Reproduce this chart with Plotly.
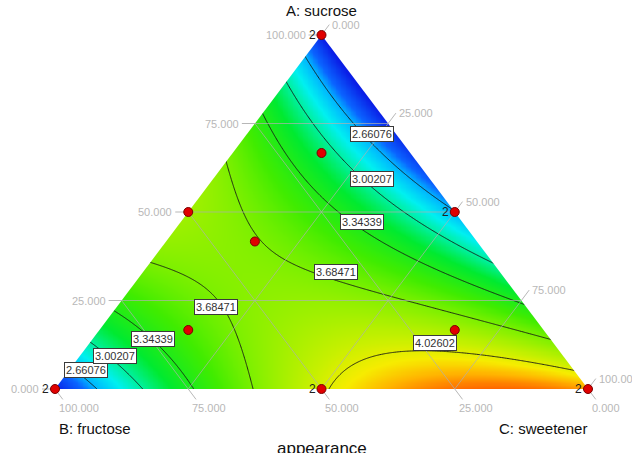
import numpy as np
import plotly.graph_objects as go

# ---- fitted mixture model for "appearance" (A: sucrose, B: fructose, C: sweetener) ----
# Scheffe full cubic: linear, binary and cubic-binary blending terms
lin_coef = [2.32, 2.32, 4.25]        # A, B, C
quad_coef = [5.94, -2.45, 2.85]      # AB, AC, BC
cub_coef = [0.0, 0.0, -0.30]         # AB(A-B), AC(A-C), BC(B-C)
abc_coef = 0.0                       # ABC

contour_levels = [2.66076, 3.00207, 3.34339, 3.68471, 4.02602]
z_low, z_high = 2.31945, 4.36733

# ---- design points (percent) and replicate counts ----
pt_A = [100, 0, 0, 50, 50, 0, 33.33, 66.67, 16.67, 16.67, 41.67]
pt_B = [0, 100, 0, 50, 0, 50, 33.33, 16.67, 66.67, 16.67, 41.67]
pt_C = [0, 0, 100, 0, 50, 50, 33.33, 16.67, 16.67, 66.67, 16.67]
replicates = [2, 2, 2, 1, 2, 2, 1, 1, 1, 1, 1]

tick_values = [0, 25, 50, 75, 100]
grid_values = [25, 50, 75]

# contour label placements (A, B, C in percent) and their levels
label_text = ["2.66076", "2.66076", "3.00207", "3.00207", "3.34339", "3.34339",
              "3.68471", "3.68471", "4.02602"]
label_A = [72.0, 5.4, 59.3, 9.3, 47.2, 14.1, 33.0, 23.2, 13.0]
label_C = [23.4, 3.1, 29.9, 6.6, 34.0, 11.4, 36.2, 18.6, 64.8]

# colour ramp: response value -> colour
ramp_values = [2.31945, 2.55, 2.66, 2.85, 3.00, 3.20, 3.50, 3.70, 3.95, 4.08, 4.20, 4.30, 4.36733]
ramp_colors = ["#0a1ee6", "#0a64ff", "#00b4ff", "#00f0f0", "#00f0a0", "#00ea30",
               "#40ec00", "#80f000", "#c8f000", "#f6ec00", "#ffb400", "#ff7c00", "#ff5a00"]

FONT = "Liberation Sans, Arial, sans-serif"
PX, PY = 533.0, 354.0   # pixels per unit of the triangle's x and y


def to_xy(a, c):
    """Mixture fractions -> planar coordinates (B at (0,0), C at (1,0), A at (0.5,1))."""
    a = np.asarray(a, dtype=float)
    c = np.asarray(c, dtype=float)
    return c + a / 2.0, a


def model(a, b, c):
    y = lin_coef[0] * a + lin_coef[1] * b + lin_coef[2] * c
    y += quad_coef[0] * a * b + quad_coef[1] * a * c + quad_coef[2] * b * c
    y += cub_coef[0] * a * b * (a - b) + cub_coef[1] * a * c * (a - c) + cub_coef[2] * b * c * (b - c)
    y += abc_coef * a * b * c
    return y


# ---- response surface on a planar grid ----
gx = np.linspace(0, 1, 321)
gy = np.linspace(0, 1, 321)
X, Y = np.meshgrid(gx, gy)
A = Y
C = X - Y / 2.0
B = 1.0 - A - C
Z = model(A, B, C)

colorscale = [[(v - z_low) / (z_high - z_low), c] for v, c in zip(ramp_values, ramp_colors)]
colorscale[0][0] = 0.0
colorscale[-1][0] = 1.0

fig = go.Figure()
fig.add_trace(go.Contour(
    x=gx, y=gy, z=Z,
    zmin=z_low, zmax=z_high,
    colorscale=colorscale, showscale=False,
    contours=dict(start=contour_levels[0], end=contour_levels[-1] + 1e-4,
                  size=contour_levels[1] - contour_levels[0], coloring="heatmap"),
    line=dict(color="#151515", width=0.9, smoothing=0.8),
    hoverinfo="skip",
))

# white masks outside the simplex
white = dict(mode="lines", fill="toself", fillcolor="white",
             line=dict(width=0, color="white"), hoverinfo="skip", showlegend=False)
fig.add_trace(go.Scatter(x=[-0.3, 0, 0.5, 0.5, -0.3], y=[0, 0, 1, 1.3, 1.3], **white))
fig.add_trace(go.Scatter(x=[1.3, 1, 0.5, 0.5, 1.3], y=[0, 0, 1, 1.3, 1.3], **white))
fig.add_trace(go.Scatter(x=[-0.3, 1.3, 1.3, -0.3], y=[0, 0, -0.3, -0.3], **white))

# ---- grid lines and tick extensions ----
TL = 13.0
ux, uy = 0.6 * TL / PX, 0.8 * TL / PY   # slanted tick components
gxs, gys = [], []
for v in grid_values:
    f = v / 100.0
    # A = const (horizontal)
    x0, y0 = to_xy(f, 0)
    x1, y1 = to_xy(f, 1 - f)
    gxs += [float(x0), float(x1), None]; gys += [float(y0), float(y1), None]
    # B = const
    x0, y0 = to_xy(0, 1 - f)
    x1, y1 = to_xy(1 - f, 0)
    gxs += [float(x0), float(x1), None]; gys += [float(y0), float(y1), None]
    # C = const
    x0, y0 = to_xy(1 - f, f)
    x1, y1 = to_xy(0, f)
    gxs += [float(x0), float(x1), None]; gys += [float(y0), float(y1), None]
fig.add_trace(go.Scatter(x=gxs, y=gys, mode="lines",
                         line=dict(color="rgba(175,175,175,0.7)", width=1),
                         hoverinfo="skip", showlegend=False))

txs, tys = [], []
annotations = []
tick_font = dict(family=FONT, size=11, color="#b8b8b8")
for v in tick_values:
    f = v / 100.0
    # A axis: left edge, horizontal tick to the left
    ex, ey = to_xy(f, 0)
    ex, ey = float(ex), float(ey)
    txs += [ex, ex - TL / PX, None]; tys += [ey, ey, None]
    annotations.append(dict(x=ex - TL / PX, y=ey, text=f"{v:.3f}", showarrow=False,
                            xanchor="right", yanchor="middle", xshift=-1, font=tick_font))
    # B axis: bottom edge, tick down-right
    ex, ey = to_xy(0, 1 - f)
    ex, ey = float(ex), float(ey)
    txs += [ex, ex + ux, None]; tys += [ey, ey - uy, None]
    annotations.append(dict(x=ex + ux, y=ey - uy, text=f"{v:.3f}", showarrow=False,
                            xanchor="left", yanchor="top", xshift=-6, yshift=-1, font=tick_font))
    # C axis: right edge, tick up-right
    ex, ey = to_xy(1 - f, f)
    ex, ey = float(ex), float(ey)
    txs += [ex, ex + ux, None]; tys += [ey, ey + uy, None]
    annotations.append(dict(x=ex + ux, y=ey + uy, text=f"{v:.3f}", showarrow=False,
                            xanchor="left", yanchor="middle", xshift=1, font=tick_font))
fig.add_trace(go.Scatter(x=txs, y=tys, mode="lines",
                         line=dict(color="rgba(175,175,175,0.9)", width=1),
                         hoverinfo="skip", showlegend=False))

# ---- design points ----
pa = np.array(pt_A) / 100.0
pc = np.array(pt_C) / 100.0
px_, py_ = to_xy(pa, pc)
fig.add_trace(go.Scatter(x=px_, y=py_, mode="markers",
                         marker=dict(size=9, color="#e00000", line=dict(color="#7a0000", width=1)),
                         hoverinfo="skip", showlegend=False))
for x, y, r in zip(px_, py_, replicates):
    if r > 1:
        annotations.append(dict(x=float(x), y=float(y), text=str(r), showarrow=False,
                                xanchor="right", yanchor="middle", xshift=-4,
                                font=dict(family=FONT, size=12, color="#202020")))

# ---- contour labels ----
lx, ly = to_xy(np.array(label_A) / 100.0, np.array(label_C) / 100.0)
for x, y, t in zip(lx, ly, label_text):
    annotations.append(dict(x=float(x), y=float(y), text=t, showarrow=False,
                            bgcolor="white", bordercolor="#3a3a3a", borderwidth=1, borderpad=1,
                            font=dict(family=FONT, size=11, color="#333333")))

# ---- component names and response title ----
name_font = dict(family=FONT, size=15, color="#111111")
annotations += [
    dict(x=0.5, y=(389 - 10) / PY, text="A: sucrose", showarrow=False, font=name_font),
    dict(x=(95 - 55) / PX, y=(389 - 428) / PY, text="B: fructose", showarrow=False, font=name_font),
    dict(x=(543 - 55) / PX, y=(389 - 428) / PY, text="C: sweetener", showarrow=False, font=name_font),
    dict(x=0.5, y=(389 - 448) / PY, text="appearance", showarrow=False,
         font=dict(family=FONT, size=17, color="#111111")),
]

fig.update_layout(
    width=632, height=453,
    margin=dict(l=0, r=0, t=0, b=0),
    paper_bgcolor="white", plot_bgcolor="white",
    showlegend=False,
    xaxis=dict(visible=False, range=[-55 / PX, 577 / PX], fixedrange=True),
    yaxis=dict(visible=False, range=[-64 / PY, 389 / PY], fixedrange=True),
    annotations=annotations,
)

fig.write_html("out.html")
